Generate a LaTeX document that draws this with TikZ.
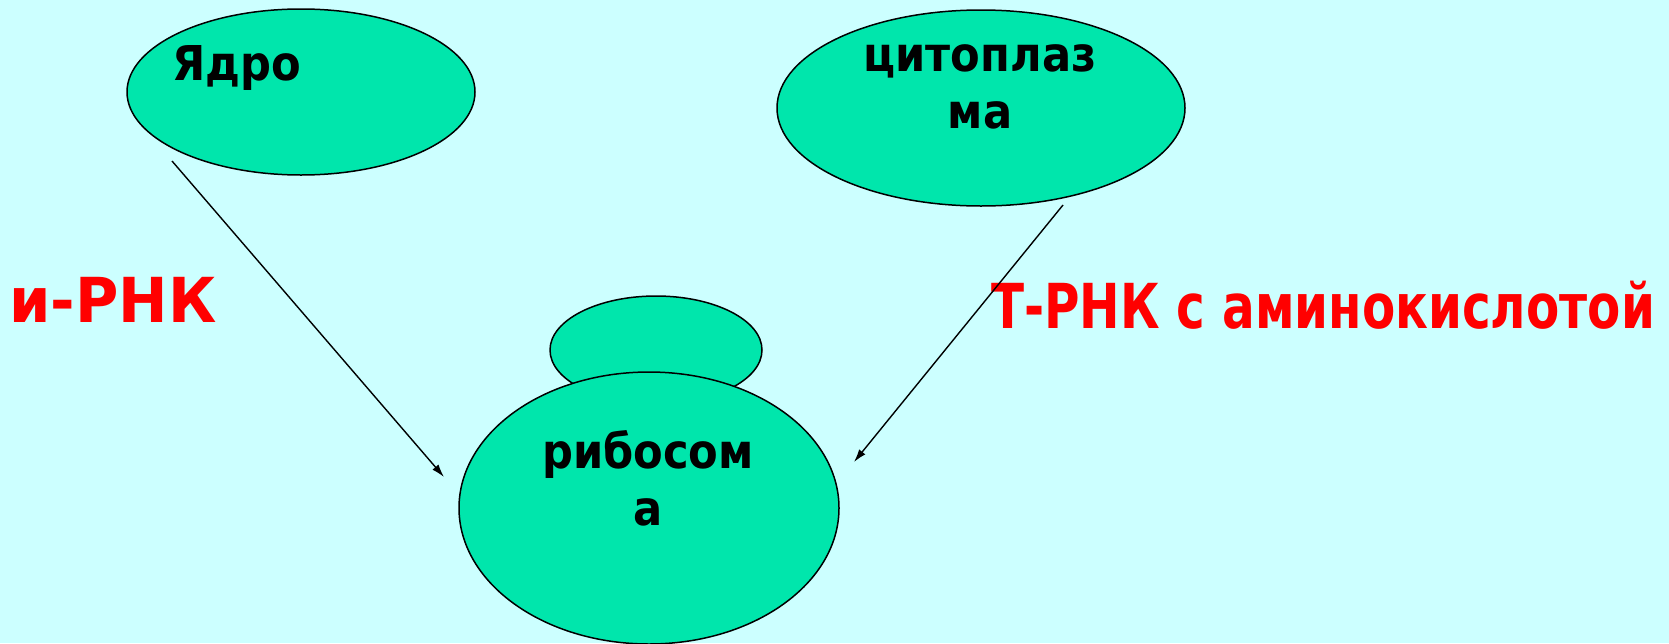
\documentclass[tikz,border=0pt]{standalone}
\usepackage{fontspec}
\usepackage{graphicx}
\setmainfont{DejaVu Sans}[FakeStretch=0.9]
\usetikzlibrary{shapes.geometric,arrows.meta}
\definecolor{bgcyan}{RGB}{204,255,255}
\definecolor{cellgreen}{RGB}{0,230,172}
\definecolor{rnared}{RGB}{255,0,0}
\tikzset{
  organelle/.style = {ellipse, draw=black, line width=1.5pt,
                      fill=cellgreen, inner sep=0pt},
  nametext/.style  = {font=\bfseries\fontsize{48}{57}\selectfont,
                      align=center, inner sep=0pt},
  rnatext/.style   = {font=\bfseries\fontsize{62}{70}\selectfont,
                      text=rnared, inner sep=0pt},
  transport/.style = {line width=1.4pt, -{Latex[length=13pt,width=8pt]}}
}

\begin{document}
\begin{tikzpicture}[x=1pt,y=-1pt]
	\fill[bgcyan] (0,0) rectangle (1669,643);
	\useasboundingbox (0,0) rectangle (1669,643);
	% organelles
	\node[organelle, minimum width=348pt, minimum height=166pt] (yadro) at (301,92) {};
	\node[organelle, minimum width=408pt, minimum height=196pt] (cyto) at (981,108) {};
	\node[organelle, minimum width=212pt, minimum height=108pt] (subunit) at (656,350) {};
	\node[organelle, minimum width=380pt, minimum height=272pt] (ribo) at (649,508) {};
	% names (base = last line)
	\node[nametext, anchor=base] (yadrolbl) at (237,80) {Ядро};
	\node[nametext, anchor=base] (cytolbl) at (980,128) {цитоплаз\\ма};
	\node[nametext, anchor=base] (ribolbl) at (648,525) {рибосом\\а};
	% RNA labels
	\node[rnatext, anchor=base west] (mrna) at (9,322) {\scalebox{1.06}[1]{и-РНК}};
	\node[rnatext, anchor=base west] (trna) at (991,328) {\scalebox{0.868}[1]{Т-РНК с аминокислотой}};
	% transport
	\coordinate (mstart) at (172,161);
	\coordinate (mend) at (444,477);
	\coordinate (tstart) at (1063,205);
	\coordinate (tend) at (854,462);
	\draw[transport] (mstart) -- (mend);
	\draw[transport] (tstart) -- (tend);
\end{tikzpicture}
\end{document}
